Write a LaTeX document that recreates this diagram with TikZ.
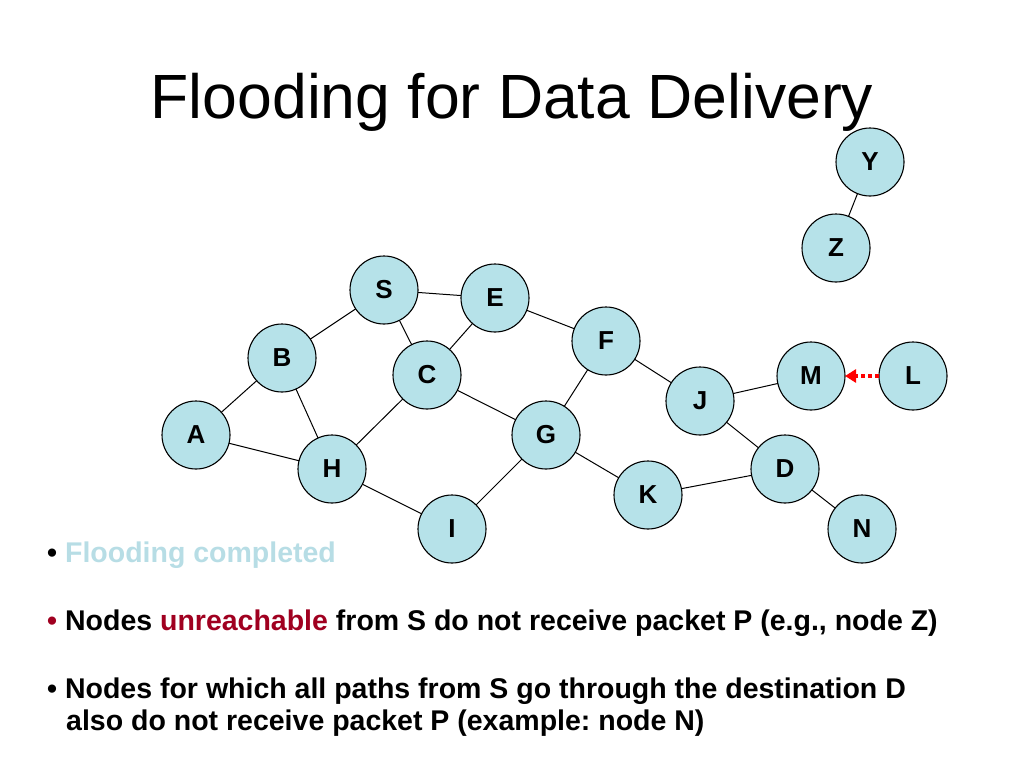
\documentclass[tikz,border=0pt]{standalone}
\usepackage{fontspec}
\setmainfont{Liberation Sans}
\usepackage{tkz-graph}
\usetikzlibrary{arrows.meta}
\definecolor{dropblue}{RGB}{182,226,233}
\definecolor{nodeyellow}{RGB}{255,255,128}
\definecolor{donecolor}{RGB}{183,221,229}
\definecolor{darkred}{RGB}{160,0,32}
\frenchspacing

\begin{document}
\begin{tikzpicture}[x=1pt,y=-1pt]
\useasboundingbox (0,0) rectangle (1024,768);
\GraphInit[vstyle=Normal]
\tikzset{VertexStyle/.style={shape=circle,draw,line width=1.1pt,fill=dropblue,
  minimum size=68pt,inner sep=0pt,font=\fontsize{26}{26}\selectfont\bfseries},
  EdgeStyle/.style={draw,line width=1pt},
  bullettext/.style={anchor=base west,inner sep=0pt,font=\fontsize{28.5}{30}\selectfont\bfseries}}
\node[anchor=base,font=\fontsize{62.5}{70}\selectfont] (title) at (512,118) {Flooding for Data Delivery};
\Vertex[x=384,y=290]{S} \Vertex[x=495,y=298]{E} \Vertex[x=282,y=358]{B}
\Vertex[x=427,y=375]{C} \Vertex[x=606,y=341]{F} \Vertex[x=196,y=435]{A}
\Vertex[x=332,y=469]{H} \Vertex[x=546,y=435]{G} \Vertex[x=452,y=529]{I}
\Vertex[x=700,y=401]{J} \Vertex[x=648,y=495]{K} \Vertex[x=785,y=469]{D}
\Vertex[x=811,y=376]{M} \Vertex[x=913,y=376]{L}
\Vertex[x=862,y=529,style={fill=nodeyellow}]{N}
\Vertex[x=870,y=162,style={fill=nodeyellow}]{Y}
\Vertex[x=836,y=248,style={fill=nodeyellow}]{Z}
\Edges(A,B,S,C,H,A) \Edges(B,H,I,G,C,E,S) \Edges(E,F,G,K,D,J,F)
\Edge(J)(M) \Edge(D)(N) \Edge(Y)(Z)
\draw[red,line width=3.5pt,dash pattern=on 4pt off 3pt,-{Triangle[length=11pt,width=13pt]}] (L) -- (M);
% bullets
\node[bullettext] (b1) at (47,562) {\textbullet\ \textcolor{donecolor}{Flooding completed}};
\node[bullettext] (b2) at (47,630) {\textcolor{darkred}{\textbullet}\ Nodes \textcolor{darkred}{unreachable} from S do not receive packet P (e.g., node Z)};
\node[bullettext] (b3) at (47,698) {\textbullet\ Nodes for which all paths from S go through the destination D};
\node[bullettext] (b4) at (66,730) {also do not receive packet P (example: node N)};
\end{tikzpicture}
\end{document}
